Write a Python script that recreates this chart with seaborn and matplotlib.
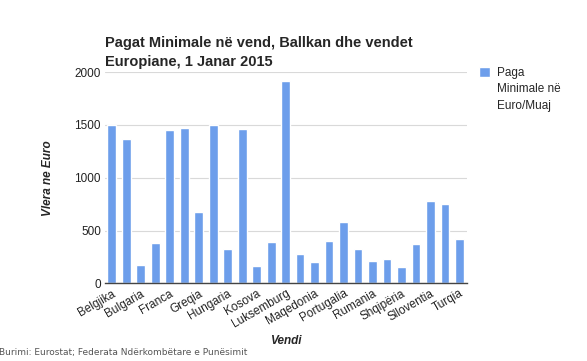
import pandas as pd
import matplotlib
matplotlib.use("Agg")
import matplotlib.pyplot as plt
import seaborn as sns

# countries (only every other one gets a visible label on the original)
countries = ["Belgjika", "Britania", "Bulgaria", "Estonia", "Franca", "Gjermania",
             "Greqia", "Holanda", "Hungaria", "Irlanda", "Kosova", "Kroacia",
             "Luksemburg", "Letonia", "Maqedonia", "Polonia", "Portugalia",
             "Rep. Çeke", "Rumania", "Serbia", "Shqipëria", "Sllovakia",
             "Slloventia", "Spanja", "Turqia"]
wages = [1500, 1370, 178, 380, 1448, 1467, 677, 1500, 327, 1458, 162, 390,
         1918, 282, 203, 405, 582, 327, 212, 232, 153, 372, 782, 748, 416]
shown_labels = ["Belgjika", "Bulgaria", "Franca", "Greqia", "Hungaria", "Kosova",
                "Luksemburg", "Maqedonia", "Portugalia", "Rumania", "Shqipëria",
                "Slloventia", "Turqia"]
yticks = [0, 500, 1000, 1500, 2000]

df = pd.DataFrame({"vendi": countries, "vlera": wages})

sns.set_style("white")
plt.rcParams["font.family"] = ["Liberation Sans", "DejaVu Sans"]

fig = plt.figure(figsize=(5.87, 3.61), dpi=100)
ax = fig.add_axes([0.179, 0.215, 0.617, 0.585])

sns.barplot(data=df, x="vendi", y="vlera", color="#6d9eeb", saturation=1,
            width=0.6, label="Paga\nMinimale në\nEuro/Muaj", ax=ax)

ax.set_xlim(-0.46, 24.53)
ax.set_ylim(0, 2000)
ax.set_yticks(yticks)
ax.set_yticklabels([str(v) for v in yticks], fontsize=8.5, color="#222222")
ax.yaxis.grid(True, color="#d9d9d9", linewidth=0.8)
ax.set_axisbelow(True)

ticks = list(range(0, len(countries), 2))
ax.set_xticks(ticks)
ax.set_xticklabels(shown_labels, rotation=30, ha="right", rotation_mode="anchor",
                   fontsize=8.5, color="#222222")
ax.tick_params(axis="both", length=0, pad=3)

for s in ["top", "right", "left"]:
    ax.spines[s].set_visible(False)
ax.spines["bottom"].set_color("#444444")
ax.spines["bottom"].set_linewidth(1)

ax.set_xlabel("Vendi", fontsize=8.5, fontstyle="italic", fontweight="bold")
ax.set_ylabel("Vlera ne Euro", fontsize=8.5, fontstyle="italic", fontweight="bold")
ax.xaxis.set_label_coords(0.5, -0.245)
ax.yaxis.set_label_coords(-0.14, 0.5)

fig.text(0.179, 0.855, "Pagat Minimale në vend, Ballkan dhe vendet\nEuropiane, 1 Janar 2015",
         fontsize=10.5, fontweight="bold", ha="left", va="center", linespacing=1.5)

leg = ax.legend(loc="upper left", bbox_to_anchor=(1.02, 1.045), frameon=False,
                fontsize=8.5, handlelength=0.9, handleheight=0.9, handletextpad=0.6,
                borderaxespad=0)
for t in leg.get_texts():
    t.set_linespacing(1.45)
# put the square next to the first line of the label
h = leg.legend_handles[0]
h.set_y(h.get_y() + 13)

fig.text(-0.002, 0.01, "Burimi: Eurostat; Federata Ndërkombëtare e Punësimit",
         fontsize=6.5, color="#555555", family=["DejaVu Sans"], ha="left", va="bottom")

fig.savefig("out.png", dpi=100)
